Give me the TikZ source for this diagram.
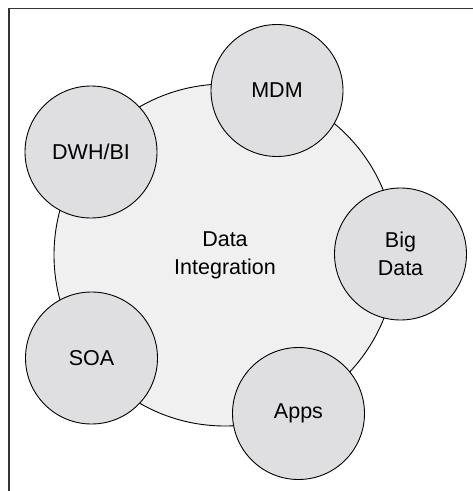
\documentclass[tikz,border=0pt]{standalone}
\usepackage{fontspec}
\setmainfont{Liberation Sans}
\definecolor{bigfill}{HTML}{F0F0F0}
\definecolor{smallfill}{HTML}{DFDFE1}
\begin{document}
\begin{tikzpicture}[x=1pt,y=-1pt,
  frameline/.style={draw=black!80,line width=1.4pt},
  hub/.style={circle,draw=black,line width=0.9pt,fill=bigfill,minimum size=342pt,inner sep=0pt,align=center,font=\fontsize{21.5}{28}\selectfont},
  spoke/.style={circle,draw=black,line width=0.9pt,fill=smallfill,minimum size=132pt,inner sep=0pt,align=center,font=\fontsize{21.5}{28}\selectfont}]
\useasboundingbox (0,0) rectangle (473,491);
\coordinate (ftl) at (9,8.7);
\coordinate (ftr) at (473,8.7);
\coordinate (fbl) at (9,491);
\draw[frameline] (ftr) -- (ftl) -- (fbl);
\node[hub] (di) at (225,255) {Data\\Integration};
\node[spoke] (mdm) at (277,90.5) {MDM};
\node[spoke] (dwh) at (91,152) {DWH/BI};
\node[spoke] (big) at (400.5,254) {Big\\Data};
\node[spoke] (soa) at (91.5,358) {SOA};
\node[spoke] (apps) at (298.5,413.5) {Apps};
\end{tikzpicture}
\end{document}
